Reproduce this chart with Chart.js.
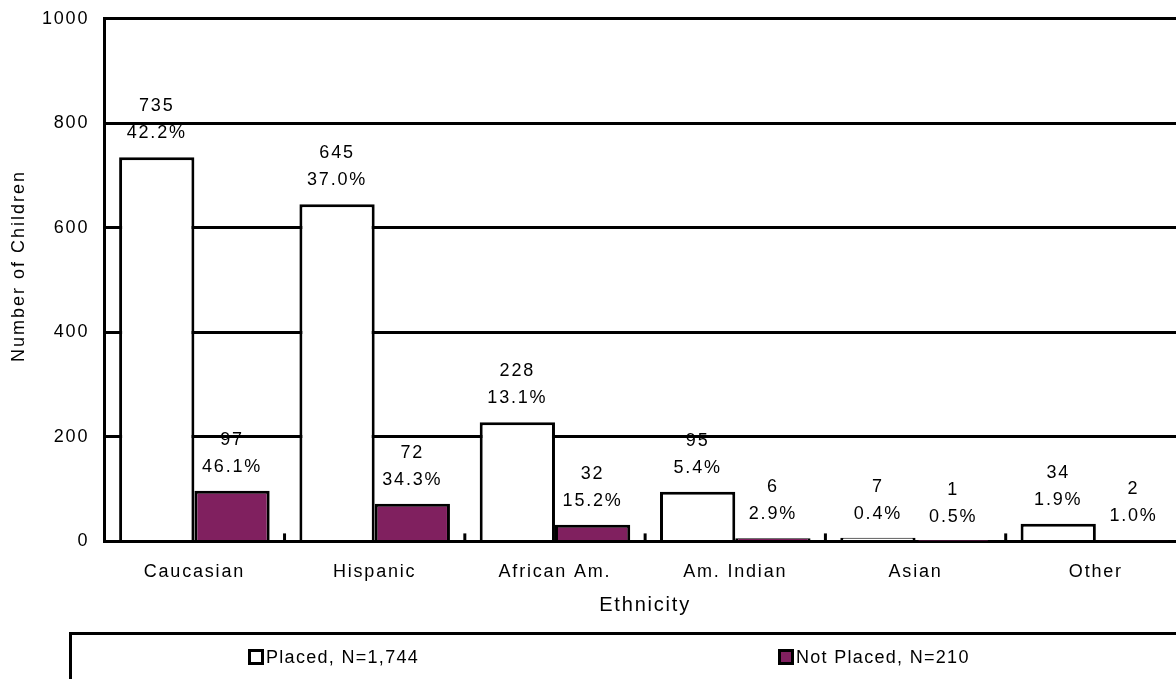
<!DOCTYPE html>
<html>
<head>
<meta charset="utf-8">
<script src="https://cdn.jsdelivr.net/npm/chart.js@4/dist/chart.umd.min.js"></script>
<style>
body { margin: 0; background: #fff; overflow: hidden; width: 1176px; height: 679px; position: relative; font-family: "Liberation Sans", Arial, sans-serif; }
#wrap { position: absolute; left: 0; top: -7px; width: 1186px; height: 686px; }
#legend { position: absolute; left: 69px; top: 632px; width: 1150px; height: 70px; border: 3px solid #000; box-sizing: border-box; font-size: 18px; letter-spacing: 1.3px; }
.item { position: absolute; top: 13px; height: 18px; line-height: 18px; display: flex; align-items: center; }
.box { width: 10px; height: 10px; border: 3px solid #000; margin-right: 2px; }
</style>
</head>
<body>
<div id="wrap"><canvas id="myChart" width="1186" height="686"></canvas></div>
<div id="legend">
  <div class="item" style="left:176px"><span class="box" style="background:#fff"></span>Placed, N=1,744</div>
  <div class="item" style="left:706px"><span class="box" style="background:#80205f"></span>Not Placed, N=210</div>
</div>
<script>
const categories = ['Caucasian', 'Hispanic', 'African Am.', 'Am. Indian', 'Asian', 'Other'];
const placed = [735, 645, 228, 95, 7, 34];
const notPlaced = [97, 72, 32, 6, 1, 2];
const placedPct = ['42.2%', '37.0%', '13.1%', '5.4%', '0.4%', '1.9%'];
const notPlacedPct = ['46.1%', '34.3%', '15.2%', '2.9%', '0.5%', '1.0%'];
const yTicks = [0, 200, 400, 600, 800, 1000];

const pctLabels = [placedPct, notPlacedPct];
const FONT = '"Liberation Sans", Arial, sans-serif';

// the original text is spaced out a little
const spacing = {
    id: 'spacing',
    beforeLayout(chart) { chart.ctx.letterSpacing = '1.8px'; },
    beforeDraw(chart) { chart.ctx.letterSpacing = '1.8px'; }
};

// value + percent above each bar, small inside ticks, y title
const barLabels = {
    id: 'barLabels',
    afterDatasetsDraw(chart) {
        const c = chart.ctx;
        c.save();
        c.font = '18px ' + FONT;
        c.fillStyle = '#000';
        c.textAlign = 'center';
        c.textBaseline = 'middle';
        chart.data.datasets.forEach((ds, di) => {
            chart.getDatasetMeta(di).data.forEach((bar, i) => {
                c.fillText(String(ds.data[i]), bar.x, bar.y - 51);
                c.fillText(pctLabels[di][i], bar.x, bar.y - 24);
            });
        });
        const xs = chart.scales.x;
        const w = (xs.right - xs.left) / categories.length;
        c.strokeStyle = '#000';
        c.lineWidth = 3;
        for (let i = 1; i < categories.length; i++) {
            const px = xs.left + w * i;
            c.beginPath();
            c.moveTo(px, chart.chartArea.bottom);
            c.lineTo(px, chart.chartArea.bottom - 8);
            c.stroke();
        }
        c.translate(19, 273);
        c.rotate(-Math.PI / 2);
        c.letterSpacing = '2px';
        c.fillText('Number of Children', 0, 0);
        c.restore();
    }
};

const ctx = document.getElementById('myChart').getContext('2d');
new Chart(ctx, {
    type: 'bar',
    data: {
        labels: categories,
        datasets: [{
                label: 'Placed, N=1,744',
                data: placed,
                backgroundColor: '#ffffff',
                borderColor: '#000',
                borderWidth: 3
            },
            {
                label: 'Not Placed, N=210',
                data: notPlaced,
                backgroundColor: '#80205f',
                borderColor: '#000',
                borderWidth: 3
            }
        ]
    },
    options: {
        responsive: false,
        animation: false,
        layout: {
            padding: { top: 1, left: 27, right: 0, bottom: 62 }
        },
        datasets: {
            bar: { barPercentage: 1, categoryPercentage: 0.835 }
        },
        scales: {
            x: {
                grid: { display: false, drawTicks: false },
                border: { color: '#000', width: 3 },
                ticks: {
                    color: '#000',
                    padding: 20,
                    font: { size: 18, family: FONT }
                },
                title: {
                    display: true,
                    text: 'Ethnicity',
                    color: '#000',
                    padding: { top: -10, bottom: 0 },
                    font: { size: 20, family: FONT }
                }
            },
            y: {
                min: 0,
                max: 1000,
                afterBuildTicks: (axis) => { axis.ticks = yTicks.map(v => ({ value: v })); },
                grid: { color: '#000', lineWidth: 3, drawTicks: false },
                border: { color: '#000', width: 3 },
                ticks: {
                    color: '#000',
                    padding: 15,
                    callback: (v) => String(v),
                    font: { size: 18, family: FONT }
                }
            }
        },
        plugins: {
            legend: { display: false },
            tooltip: { enabled: false }
        }
    },
    plugins: [spacing, barLabels]
});
</script>
</body>
</html>
